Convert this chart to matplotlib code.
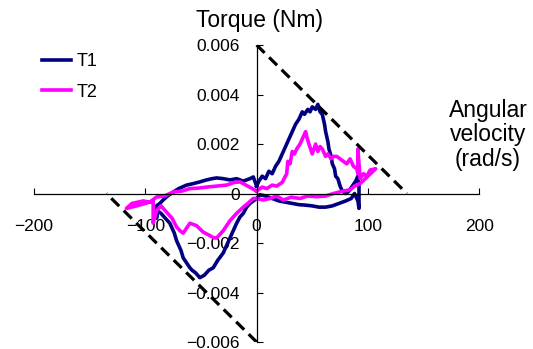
import numpy as np
import matplotlib.pyplot as plt

plt.rcParams['font.family'] = ['Liberation Sans', 'DejaVu Sans']

# T1 loop: angular velocity (rad/s) and torque (Nm)
t1_w = [0, 2, 5, 8, 11, 14, 17, 20, 23, 26, 29, 32, 35, 38, 41, 43, 46, 48, 50, 53, 55, 57,
        59, 61, 62, 64, 65, 67, 68, 70, 71, 73, 75, 77, 80, 83, 86, 89, 91, 92, 92, 92, 91,
        88, 85, 80, 74, 68, 62, 56, 50, 44, 38, 32, 26, 20, 14, 8, 3, 0,
        -3, -6, -9, -12, -15, -18, -21, -25, -30, -35, -39, -43, -47, -51, -55, -58, -60,
        -63, -66, -68, -70, -72, -74, -76, -78, -82, -86, -89, -90, -90, -87, -84, -80,
        -75, -70, -63, -57, -51, -45, -40, -36, -30, -24, -18, -12, -6, -3, 0]
t1_t = [0.0003, 0.0005, 0.0007, 0.0006, 0.0009, 0.0008, 0.0011, 0.0013, 0.0016, 0.0019,
        0.0022, 0.0025, 0.0028, 0.0030, 0.0033, 0.0032, 0.0034, 0.0033, 0.0035, 0.0034,
        0.0036, 0.0033, 0.0032, 0.0028, 0.0025, 0.0021, 0.0018, 0.0015, 0.0012, 0.0010,
        0.0007, 0.0006, 0.0003, 0.0001, 0.0000, 0.0001, 0.0003, 0.0005, 0.0007, 0.0003,
        -0.0002, -0.0006, -0.0003, 0.0000, -0.0002, -0.0003, -0.0004, -0.0005, -0.00055,
        -0.00055, -0.0005, -0.00047, -0.00045, -0.0004, -0.00035, -0.0003, -0.0002,
        -0.0001, -0.00005, -0.0002,
        -0.0003, -0.0004, -0.00055, -0.0008, -0.00095, -0.0012, -0.0015, -0.0019, -0.0024,
        -0.0027, -0.0030, -0.0031, -0.0033, -0.0034, -0.0032, -0.0031, -0.0030, -0.0028,
        -0.0026, -0.0023, -0.0021, -0.0019, -0.0016, -0.0014, -0.0012, -0.0010, -0.0008,
        -0.0007, -0.0010, -0.0005, -0.0004, -0.00026, -0.0001, 0.00006, 0.0002, 0.00034,
        0.0004, 0.00047, 0.00055, 0.0006, 0.00063, 0.0006, 0.00055, 0.0006, 0.0005,
        0.0006, 0.00067, 0.0003]

# T2 loop
t2_w = [0, 5, 9, 14, 18, 23, 27, 28, 30, 32, 34, 36, 39, 42, 44, 45, 47, 50, 53, 55, 57,
        59, 62, 64, 67, 69, 72, 75, 78, 81, 84, 87, 90, 91, 91, 93, 96, 99, 102, 107,
        100, 93, 88, 84, 78, 69, 62, 54, 46, 39, 31, 24, 18, 12, 6, 0,
        -3, -8, -12, -18, -24, -30, -36, -39, -42, -48, -54, -60, -66, -69, -72, -76, -80,
        -86, -90, -93, -93, -100, -108, -117, -112, -102, -96, -90, -83, -75, -67, -60,
        -52, -45, -36, -27, -20, -15, -8, 0]
t2_t = [0.0001, 0.00026, 0.0002, 0.00034, 0.0003, 0.00045, 0.0008, 0.0013, 0.0012,
        0.0017, 0.0016, 0.0018, 0.0020, 0.0023, 0.0025, 0.0023, 0.0020, 0.0016, 0.0020,
        0.0017, 0.0019, 0.0018, 0.0015, 0.0016, 0.0014, 0.0015, 0.0015, 0.0014, 0.0013,
        0.0012, 0.0014, 0.0011, 0.0010, 0.0008, 0.0018, 0.0006, 0.0008, 0.0007, 0.00095,
        0.0010, 0.0007, 0.0004, 0.0003, 0.00015, 0.0001, 0.0000, -0.0001, -0.00013,
        -0.0001, -0.0002, -0.00015, -0.00026, -0.0001, -0.0002, -0.00026, -0.0002,
        -0.0002, -0.0004, -0.00055, -0.0008, -0.0011, -0.0015, -0.0018, -0.00178,
        -0.0017, -0.00156, -0.0013, -0.0012, -0.0016, -0.0015, -0.00135, -0.0010, -0.0008,
        -0.0005, -0.0007, -0.0012, -0.0003, -0.0004, -0.0005, -0.0006, -0.0004, -0.0003,
        -0.00035, -0.00014, -0.0001, 0.00006, 0.0001, 0.0002, 0.00022, 0.00026, 0.0003,
        0.00034, 0.00045, 0.00047, 0.0003, 0.0001]

# dashed limit lines
lim_w = [0, 135]
lim_t = [0.006, 0]

xticks = [-200, -100, 0, 100, 200]
yticks = [-0.006, -0.004, -0.002, 0, 0.002, 0.004, 0.006]
ytick_labels = ['\u22120.006', '\u22120.004', '\u22120.002', '0', '0.002', '0.004', '0.006']

fig = plt.figure(figsize=(5.33, 3.49), dpi=100)
ax = fig.add_axes([0.064, 0.020, 0.835, 0.851])

ax.plot(t1_w, t1_t, color='#000080', lw=2.6, label='T1')
ax.plot(t2_w, t2_t, color='#ff00ff', lw=2.6, label='T2')
ax.plot(lim_w, lim_t, color='black', lw=2.3, ls=(0, (3.5, 2)))
ax.plot([-w for w in lim_w], [-t for t in lim_t], color='black', lw=2.3, ls=(0, (3.5, 2)))

ax.set_xlim(-200, 200)
ax.set_ylim(-0.006, 0.006)
ax.spines['left'].set_position(('data', 0))
ax.spines['bottom'].set_position(('data', 0))
ax.spines['top'].set_visible(False)
ax.spines['right'].set_visible(False)
for s in ['left', 'bottom']:
    ax.spines[s].set_linewidth(0.9)
ax.set_xticks(xticks)
ax.set_xticklabels([str(v).replace('-', '\u2212') for v in xticks])
ax.set_yticks(yticks)
ax.set_yticklabels(ytick_labels)
ax.tick_params(axis='x', direction='in', length=4, pad=18, labelsize=12.5)
ax.tick_params(axis='y', direction='in', length=4, pad=12, labelsize=12.5)
ax.patch.set_visible(False)

fig.text(259 / 533, 1 - 20 / 349, 'Torque (Nm)', ha='center', va='center', fontsize=16.5)
fig.text(488 / 533, 1 - 135 / 349, 'Angular\nvelocity\n(rad/s)', ha='center', va='center',
         fontsize=16.5, linespacing=1.1)

fig.legend(loc='upper left', bbox_to_anchor=(42 / 533, 1 - 53 / 349), frameon=False,
           fontsize=13, handlelength=1.6, handletextpad=0.3, labelspacing=0.75,
           borderpad=0, borderaxespad=0)

fig.savefig('out.png', dpi=100)
